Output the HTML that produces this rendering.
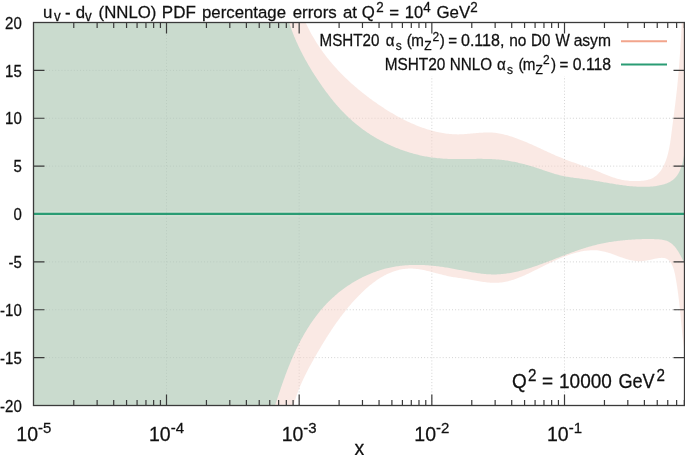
<!DOCTYPE html>
<html><head><meta charset="utf-8"><style>
html,body{margin:0;padding:0;background:#fff;width:685px;height:455px;overflow:hidden}
svg{display:block;will-change:transform;font-family:"Liberation Sans",sans-serif;fill:#000}
text{fill:#111;stroke:#111;stroke-width:0.25px}
</style></head><body>
<svg width="685" height="455" viewBox="0 0 685 455">
<clipPath id="gc"><path d="M33.50,22.50H297.50V76.00H684.50V405.50H33.50Z"/></clipPath>
<path d="M166.50,22.50V405.50 M299.17,22.50V405.50 M431.84,22.50V405.50 M564.51,22.50V405.50 M33.50,70.38H684.50 M33.50,118.25H684.50 M33.50,166.12H684.50 M33.50,261.88H684.50 M33.50,309.75H684.50 M33.50,357.62H684.50" stroke="#b8b8b8" stroke-width="1" stroke-dasharray="1,2.1" fill="none" opacity="0.6" clip-path="url(#gc)"/>
<path d="M33.50,405.50 L33.50,22.50 L305.54,22.38 L306.15,23.69 L306.76,24.99 L307.39,26.28 L308.02,27.57 L308.67,28.85 L309.32,30.12 L309.99,31.39 L310.66,32.65 L311.35,33.90 L312.04,35.14 L312.75,36.37 L313.46,37.60 L314.18,38.82 L314.92,40.04 L315.66,41.24 L316.41,42.44 L317.17,43.63 L317.94,44.82 L318.72,45.99 L319.50,47.16 L320.30,48.33 L321.10,49.48 L321.92,50.63 L322.74,51.77 L323.57,52.91 L324.41,54.04 L325.25,55.16 L326.11,56.27 L326.97,57.38 L327.84,58.48 L328.72,59.57 L329.61,60.66 L330.50,61.74 L331.41,62.82 L332.32,63.88 L333.24,64.94 L334.16,66.00 L335.09,67.04 L336.03,68.08 L336.98,69.12 L337.94,70.15 L338.90,71.17 L339.87,72.18 L340.84,73.19 L341.83,74.19 L342.82,75.19 L343.81,76.18 L344.81,77.16 L345.82,78.14 L346.84,79.11 L347.86,80.08 L348.89,81.04 L349.93,81.99 L350.97,82.93 L352.01,83.88 L353.07,84.81 L354.13,85.74 L355.19,86.66 L356.26,87.58 L357.34,88.49 L358.42,89.39 L359.51,90.29 L360.60,91.19 L361.70,92.07 L362.80,92.96 L363.91,93.83 L365.02,94.70 L366.14,95.57 L367.27,96.43 L368.40,97.28 L369.53,98.13 L370.67,98.97 L371.81,99.81 L372.96,100.64 L374.11,101.47 L375.27,102.29 L376.43,103.10 L377.59,103.91 L378.76,104.72 L379.94,105.52 L381.11,106.31 L382.30,107.09 L383.48,107.87 L384.67,108.64 L385.87,109.41 L387.07,110.17 L388.27,110.92 L389.48,111.66 L390.69,112.39 L391.91,113.12 L393.13,113.84 L394.36,114.55 L395.59,115.25 L396.82,115.94 L398.06,116.63 L399.30,117.30 L400.55,117.97 L401.80,118.62 L403.06,119.27 L404.32,119.91 L405.58,120.53 L406.85,121.15 L408.12,121.75 L409.40,122.35 L410.68,122.93 L411.97,123.50 L413.26,124.06 L414.55,124.61 L415.85,125.15 L417.15,125.67 L418.46,126.18 L419.77,126.69 L421.09,127.17 L422.40,127.65 L423.73,128.11 L425.06,128.56 L426.39,129.00 L427.73,129.42 L429.07,129.83 L430.41,130.22 L431.76,130.60 L433.11,130.97 L434.47,131.32 L435.83,131.65 L437.20,131.97 L438.56,132.27 L439.94,132.55 L441.31,132.82 L442.69,133.07 L444.07,133.29 L445.46,133.50 L446.85,133.69 L448.24,133.85 L449.64,134.00 L451.04,134.12 L452.44,134.22 L453.84,134.29 L455.25,134.35 L456.66,134.37 L458.07,134.38 L459.49,134.36 L460.90,134.31 L462.32,134.25 L463.74,134.17 L465.16,134.07 L466.59,133.97 L468.01,133.85 L469.44,133.73 L470.86,133.60 L472.29,133.46 L473.71,133.33 L475.14,133.20 L476.57,133.07 L477.99,132.95 L479.42,132.84 L480.84,132.73 L482.26,132.65 L483.68,132.57 L485.10,132.52 L486.51,132.49 L487.93,132.48 L489.34,132.49 L490.75,132.54 L492.16,132.61 L493.56,132.72 L494.96,132.86 L496.35,133.03 L497.75,133.23 L499.13,133.46 L500.52,133.71 L501.90,134.00 L503.27,134.30 L504.65,134.63 L506.01,134.99 L507.37,135.36 L508.73,135.75 L510.08,136.15 L511.43,136.58 L512.77,137.02 L514.10,137.47 L515.43,137.93 L516.76,138.40 L518.07,138.89 L519.39,139.39 L520.70,139.90 L522.01,140.42 L523.31,140.94 L524.61,141.48 L525.91,142.02 L527.20,142.58 L528.49,143.13 L529.78,143.70 L531.07,144.27 L532.35,144.84 L533.64,145.42 L534.92,146.01 L536.20,146.59 L537.48,147.18 L538.76,147.77 L540.04,148.37 L541.32,148.96 L542.59,149.56 L543.87,150.15 L545.15,150.74 L546.43,151.34 L547.72,151.93 L549.00,152.51 L550.29,153.10 L551.57,153.68 L552.86,154.25 L554.16,154.82 L555.45,155.39 L556.75,155.95 L558.05,156.50 L559.35,157.05 L560.66,157.58 L561.98,158.11 L563.29,158.63 L564.61,159.15 L565.93,159.66 L567.26,160.16 L568.58,160.66 L569.91,161.15 L571.24,161.64 L572.57,162.13 L573.90,162.61 L575.24,163.09 L576.57,163.57 L577.90,164.04 L579.23,164.52 L580.57,164.99 L581.90,165.46 L583.23,165.94 L584.55,166.41 L585.88,166.89 L587.20,167.37 L588.53,167.85 L589.84,168.33 L591.16,168.82 L592.47,169.31 L593.78,169.81 L595.08,170.31 L596.38,170.82 L597.68,171.33 L598.97,171.85 L600.26,172.37 L601.54,172.90 L602.82,173.42 L604.11,173.95 L605.39,174.47 L606.67,174.99 L607.96,175.49 L609.25,175.99 L610.55,176.48 L611.85,176.95 L613.17,177.40 L614.49,177.84 L615.82,178.26 L617.16,178.65 L618.51,179.02 L619.88,179.36 L621.27,179.68 L622.66,179.96 L624.08,180.22 L625.51,180.44 L626.95,180.62 L628.40,180.78 L629.87,180.91 L631.34,181.00 L632.81,181.07 L634.29,181.11 L635.77,181.11 L637.26,181.09 L638.74,181.04 L640.21,180.96 L641.68,180.85 L643.13,180.70 L644.57,180.50 L645.98,180.26 L647.35,179.96 L648.70,179.61 L650.00,179.19 L651.26,178.70 L652.47,178.15 L653.62,177.51 L654.72,176.81 L655.78,176.04 L656.78,175.20 L657.73,174.31 L658.64,173.36 L659.51,172.35 L660.33,171.30 L661.11,170.20 L661.85,169.05 L662.55,167.87 L663.21,166.65 L663.83,165.40 L664.43,164.12 L664.98,162.81 L665.51,161.48 L666.00,160.14 L666.47,158.77 L666.91,157.40 L667.32,156.02 L667.70,154.64 L668.07,153.25 L668.41,151.85 L668.73,150.45 L669.03,149.04 L669.31,147.63 L669.58,146.22 L669.83,144.81 L670.07,143.39 L670.29,141.97 L670.51,140.55 L670.71,139.13 L670.91,137.71 L671.10,136.29 L671.28,134.87 L671.47,133.45 L671.64,132.03 L671.82,130.61 L672.00,129.20 L672.18,127.79 L672.36,126.38 L672.54,124.98 L672.72,123.57 L672.90,122.17 L673.08,120.77 L673.26,119.37 L673.44,117.98 L673.62,116.58 L673.81,115.19 L673.99,113.80 L674.17,112.41 L674.34,111.02 L674.52,109.63 L674.70,108.24 L674.88,106.85 L675.05,105.46 L675.22,104.07 L675.40,102.68 L675.57,101.29 L675.73,99.90 L675.90,98.51 L676.06,97.12 L676.23,95.73 L676.38,94.33 L676.54,92.94 L676.70,91.54 L676.85,90.15 L677.00,88.75 L677.14,87.35 L677.29,85.94 L677.43,84.54 L677.57,83.14 L677.70,81.73 L677.84,80.33 L677.97,78.92 L678.10,77.51 L678.22,76.10 L678.35,74.69 L678.47,73.28 L678.59,71.87 L678.71,70.46 L678.82,69.05 L678.94,67.63 L679.05,66.22 L679.16,64.81 L679.27,63.39 L679.38,61.98 L679.48,60.56 L679.59,59.15 L679.69,57.73 L679.79,56.32 L679.88,54.90 L679.98,53.49 L680.08,52.07 L680.17,50.66 L680.26,49.25 L680.35,47.83 L680.44,46.42 L680.53,45.01 L680.62,43.59 L680.70,42.18 L680.79,40.77 L680.87,39.36 L680.96,37.95 L681.04,36.54 L681.12,35.14 L681.20,33.73 L681.28,32.32 L681.35,30.92 L681.43,29.51 L681.51,28.11 L681.58,26.71 L681.66,25.31 L681.73,23.91 L681.81,22.51 L684.50,22.50 L684.50,350.21 L684.28,350.21 L684.09,348.77 L683.90,347.34 L683.72,345.92 L683.54,344.51 L683.37,343.10 L683.20,341.70 L683.04,340.31 L682.88,338.92 L682.72,337.53 L682.57,336.15 L682.42,334.78 L682.28,333.41 L682.14,332.04 L682.00,330.68 L681.86,329.32 L681.72,327.97 L681.59,326.62 L681.46,325.27 L681.33,323.92 L681.20,322.57 L681.07,321.23 L680.94,319.89 L680.81,318.54 L680.68,317.20 L680.55,315.86 L680.42,314.52 L680.29,313.18 L680.16,311.84 L680.03,310.50 L679.89,309.15 L679.75,307.81 L679.61,306.46 L679.47,305.12 L679.32,303.77 L679.17,302.41 L679.01,301.06 L678.86,299.70 L678.70,298.33 L678.53,296.97 L678.36,295.60 L678.18,294.22 L678.00,292.84 L677.81,291.46 L677.62,290.07 L677.42,288.67 L677.22,287.27 L677.00,285.86 L676.78,284.44 L676.56,283.02 L676.32,281.59 L676.08,280.16 L675.83,278.71 L675.57,277.26 L675.30,275.80 L675.02,274.35 L674.71,272.91 L674.37,271.49 L674.00,270.10 L673.60,268.74 L673.15,267.42 L672.66,266.15 L672.12,264.94 L671.52,263.79 L670.86,262.71 L670.13,261.71 L669.33,260.81 L668.46,260.00 L667.52,259.31 L666.51,258.75 L665.42,258.32 L664.26,258.04 L663.04,257.89 L661.76,257.86 L660.44,257.92 L659.08,258.07 L657.69,258.27 L656.29,258.52 L654.88,258.80 L653.47,259.09 L652.06,259.39 L650.65,259.69 L649.24,259.97 L647.83,260.24 L646.43,260.49 L645.03,260.71 L643.64,260.90 L642.26,261.04 L640.87,261.13 L639.50,261.17 L638.13,261.14 L636.77,261.07 L635.42,260.94 L634.07,260.77 L632.73,260.55 L631.39,260.29 L630.06,259.99 L628.73,259.66 L627.41,259.30 L626.08,258.91 L624.77,258.50 L623.45,258.07 L622.14,257.62 L620.82,257.15 L619.51,256.68 L618.20,256.20 L616.89,255.72 L615.59,255.24 L614.28,254.76 L612.97,254.28 L611.66,253.82 L610.34,253.37 L609.03,252.94 L607.71,252.53 L606.39,252.14 L605.07,251.78 L603.74,251.45 L602.41,251.15 L601.08,250.89 L599.74,250.67 L598.40,250.50 L597.05,250.36 L595.69,250.27 L594.34,250.22 L592.98,250.20 L591.62,250.23 L590.25,250.28 L588.89,250.38 L587.52,250.50 L586.16,250.66 L584.79,250.85 L583.43,251.06 L582.07,251.31 L580.70,251.58 L579.34,251.88 L577.99,252.20 L576.64,252.54 L575.29,252.91 L573.94,253.29 L572.60,253.70 L571.27,254.12 L569.94,254.56 L568.62,255.01 L567.30,255.48 L566.00,255.96 L564.70,256.45 L563.41,256.95 L562.12,257.47 L560.84,257.99 L559.57,258.52 L558.31,259.06 L557.05,259.61 L555.79,260.17 L554.54,260.73 L553.30,261.30 L552.06,261.88 L550.82,262.47 L549.58,263.06 L548.35,263.65 L547.12,264.25 L545.89,264.85 L544.66,265.46 L543.44,266.07 L542.21,266.68 L540.98,267.29 L539.76,267.91 L538.53,268.52 L537.30,269.14 L536.07,269.76 L534.84,270.37 L533.61,270.99 L532.37,271.60 L531.13,272.21 L529.89,272.82 L528.64,273.42 L527.39,274.01 L526.14,274.59 L524.88,275.17 L523.62,275.73 L522.36,276.28 L521.09,276.82 L519.82,277.35 L518.54,277.86 L517.26,278.35 L515.97,278.82 L514.68,279.27 L513.38,279.71 L512.08,280.12 L510.77,280.50 L509.46,280.87 L508.14,281.20 L506.82,281.51 L505.48,281.79 L504.15,282.04 L502.80,282.26 L501.45,282.45 L500.09,282.60 L498.73,282.72 L497.35,282.81 L495.98,282.85 L494.59,282.86 L493.20,282.84 L491.80,282.78 L490.39,282.69 L488.99,282.58 L487.58,282.44 L486.17,282.28 L484.76,282.10 L483.35,281.90 L481.94,281.68 L480.53,281.46 L479.13,281.22 L477.73,280.98 L476.33,280.73 L474.94,280.48 L473.56,280.23 L472.18,279.98 L470.81,279.73 L469.46,279.49 L468.11,279.26 L466.77,279.05 L465.44,278.84 L464.13,278.64 L462.82,278.45 L461.51,278.27 L460.22,278.09 L458.92,277.90 L457.63,277.72 L456.33,277.53 L455.04,277.34 L453.74,277.13 L452.44,276.92 L451.13,276.69 L449.82,276.45 L448.50,276.19 L447.17,275.91 L445.83,275.61 L444.48,275.29 L443.12,274.96 L441.75,274.62 L440.38,274.27 L438.99,273.91 L437.61,273.54 L436.22,273.17 L434.82,272.80 L433.42,272.43 L432.02,272.06 L430.61,271.70 L429.20,271.35 L427.80,271.01 L426.39,270.68 L424.98,270.36 L423.57,270.07 L422.17,269.79 L420.77,269.53 L419.37,269.30 L417.97,269.10 L416.59,268.92 L415.20,268.78 L413.82,268.67 L412.45,268.59 L411.09,268.55 L409.73,268.55 L408.39,268.59 L407.05,268.67 L405.71,268.78 L404.39,268.93 L403.08,269.11 L401.77,269.33 L400.47,269.58 L399.18,269.86 L397.89,270.18 L396.62,270.53 L395.35,270.90 L394.09,271.31 L392.84,271.75 L391.60,272.22 L390.36,272.71 L389.14,273.23 L387.92,273.78 L386.71,274.36 L385.51,274.96 L384.31,275.58 L383.13,276.23 L381.95,276.90 L380.79,277.59 L379.63,278.31 L378.48,279.05 L377.33,279.80 L376.20,280.58 L375.07,281.38 L373.96,282.19 L372.85,283.03 L371.75,283.88 L370.66,284.74 L369.58,285.62 L368.50,286.52 L367.44,287.43 L366.38,288.35 L365.34,289.29 L364.30,290.24 L363.27,291.20 L362.25,292.17 L361.23,293.15 L360.23,294.15 L359.24,295.14 L358.25,296.15 L357.28,297.17 L356.31,298.19 L355.35,299.22 L354.40,300.25 L353.46,301.29 L352.53,302.33 L351.61,303.37 L350.69,304.42 L349.79,305.48 L348.89,306.54 L348.00,307.60 L347.12,308.66 L346.25,309.73 L345.38,310.81 L344.52,311.88 L343.67,312.96 L342.83,314.05 L342.00,315.14 L341.17,316.23 L340.34,317.32 L339.53,318.42 L338.72,319.53 L337.92,320.63 L337.12,321.74 L336.33,322.85 L335.55,323.97 L334.77,325.09 L333.99,326.21 L333.22,327.34 L332.46,328.47 L331.70,329.60 L330.95,330.74 L330.20,331.88 L329.46,333.02 L328.72,334.16 L327.98,335.31 L327.25,336.46 L326.52,337.62 L325.80,338.77 L325.08,339.93 L324.36,341.10 L323.65,342.26 L322.94,343.43 L322.23,344.60 L321.53,345.78 L320.82,346.95 L320.12,348.13 L319.43,349.31 L318.73,350.50 L318.04,351.68 L317.35,352.87 L316.66,354.07 L315.97,355.26 L315.28,356.46 L314.60,357.65 L313.92,358.86 L313.24,360.06 L312.56,361.27 L311.89,362.48 L311.22,363.69 L310.55,364.90 L309.89,366.12 L309.24,367.34 L308.59,368.56 L307.94,369.79 L307.30,371.02 L306.67,372.25 L306.04,373.48 L305.42,374.72 L304.81,375.96 L304.20,377.21 L303.60,378.46 L303.02,379.71 L302.43,380.96 L301.86,382.22 L301.30,383.48 L300.75,384.75 L300.21,386.01 L299.68,387.28 L299.16,388.56 L298.65,389.84 L298.15,391.12 L297.66,392.41 L297.19,393.70 L296.73,394.99 L296.28,396.29 L295.85,397.59 L295.43,398.90 L295.02,400.21 L294.63,401.52 L294.25,402.84 L293.89,404.16 L293.54,405.49 Z" fill="#f5d3c9" fill-opacity="0.500"/>
<path d="M33.50,405.50 L33.50,22.50 L289.16,22.58 L289.53,23.73 L289.91,24.87 L290.29,26.01 L290.68,27.15 L291.08,28.29 L291.49,29.42 L291.90,30.55 L292.32,31.67 L292.75,32.80 L293.18,33.92 L293.63,35.03 L294.07,36.15 L294.53,37.26 L294.99,38.37 L295.46,39.48 L295.94,40.58 L296.42,41.68 L296.91,42.78 L297.41,43.87 L297.91,44.96 L298.42,46.05 L298.93,47.14 L299.45,48.22 L299.98,49.31 L300.51,50.38 L301.05,51.46 L301.59,52.53 L302.14,53.60 L302.70,54.67 L303.26,55.74 L303.82,56.80 L304.39,57.86 L304.97,58.92 L305.55,59.97 L306.14,61.02 L306.73,62.07 L307.33,63.12 L307.93,64.16 L308.54,65.21 L309.15,66.25 L309.77,67.28 L310.39,68.32 L311.02,69.35 L311.65,70.38 L312.28,71.41 L312.92,72.43 L313.56,73.45 L314.21,74.47 L314.86,75.49 L315.52,76.51 L316.18,77.52 L316.84,78.53 L317.51,79.54 L318.18,80.55 L318.85,81.55 L319.53,82.55 L320.21,83.55 L320.90,84.55 L321.59,85.54 L322.28,86.53 L322.98,87.52 L323.68,88.50 L324.39,89.48 L325.10,90.46 L325.81,91.43 L326.53,92.40 L327.26,93.37 L327.99,94.33 L328.72,95.29 L329.46,96.25 L330.20,97.20 L330.95,98.15 L331.70,99.09 L332.46,100.03 L333.22,100.96 L333.99,101.89 L334.77,102.81 L335.55,103.73 L336.33,104.64 L337.12,105.55 L337.91,106.46 L338.72,107.35 L339.52,108.25 L340.33,109.13 L341.15,110.01 L341.98,110.89 L342.81,111.76 L343.64,112.62 L344.48,113.48 L345.33,114.33 L346.18,115.18 L347.05,116.01 L347.91,116.85 L348.79,117.67 L349.66,118.49 L350.55,119.30 L351.44,120.10 L352.34,120.90 L353.25,121.69 L354.16,122.47 L355.08,123.25 L356.01,124.02 L356.94,124.78 L357.88,125.53 L358.82,126.28 L359.77,127.01 L360.73,127.74 L361.69,128.47 L362.66,129.18 L363.64,129.89 L364.62,130.59 L365.60,131.29 L366.59,131.97 L367.59,132.65 L368.59,133.32 L369.60,133.98 L370.62,134.63 L371.64,135.28 L372.66,135.92 L373.69,136.55 L374.72,137.17 L375.76,137.79 L376.81,138.39 L377.86,138.99 L378.91,139.58 L379.97,140.16 L381.03,140.74 L382.10,141.30 L383.17,141.86 L384.25,142.41 L385.33,142.95 L386.41,143.48 L387.50,144.01 L388.59,144.52 L389.69,145.03 L390.79,145.53 L391.90,146.02 L393.01,146.50 L394.12,146.97 L395.23,147.44 L396.35,147.89 L397.48,148.34 L398.60,148.78 L399.74,149.21 L400.87,149.63 L402.01,150.04 L403.15,150.45 L404.29,150.84 L405.43,151.23 L406.58,151.60 L407.73,151.97 L408.89,152.33 L410.05,152.68 L411.21,153.02 L412.37,153.35 L413.53,153.67 L414.70,153.98 L415.87,154.29 L417.04,154.58 L418.22,154.87 L419.39,155.14 L420.57,155.41 L421.75,155.66 L422.93,155.91 L424.12,156.15 L425.30,156.38 L426.49,156.60 L427.68,156.81 L428.87,157.01 L430.06,157.20 L431.25,157.38 L432.45,157.55 L433.64,157.71 L434.84,157.86 L436.04,158.00 L437.24,158.13 L438.44,158.25 L439.64,158.36 L440.84,158.46 L442.05,158.56 L443.25,158.64 L444.45,158.71 L445.66,158.78 L446.86,158.84 L448.07,158.88 L449.27,158.93 L450.48,158.96 L451.69,158.99 L452.90,159.02 L454.10,159.03 L455.31,159.05 L456.52,159.05 L457.73,159.06 L458.94,159.06 L460.15,159.05 L461.36,159.05 L462.57,159.04 L463.78,159.03 L464.99,159.01 L466.20,159.00 L467.41,158.98 L468.62,158.97 L469.83,158.95 L471.04,158.93 L472.25,158.92 L473.46,158.90 L474.66,158.89 L475.87,158.88 L477.08,158.87 L478.29,158.86 L479.50,158.86 L480.70,158.86 L481.91,158.87 L483.12,158.88 L484.32,158.89 L485.53,158.91 L486.73,158.94 L487.93,158.97 L489.14,159.00 L490.34,159.05 L491.54,159.10 L492.74,159.16 L493.94,159.23 L495.14,159.30 L496.34,159.39 L497.53,159.48 L498.73,159.59 L499.92,159.70 L501.12,159.83 L502.31,159.96 L503.50,160.11 L504.69,160.27 L505.88,160.43 L507.07,160.61 L508.26,160.80 L509.44,160.99 L510.63,161.20 L511.81,161.41 L512.99,161.64 L514.17,161.87 L515.35,162.11 L516.53,162.36 L517.71,162.62 L518.89,162.89 L520.06,163.16 L521.24,163.44 L522.41,163.74 L523.59,164.04 L524.76,164.34 L525.93,164.66 L527.10,164.98 L528.26,165.31 L529.43,165.64 L530.60,165.98 L531.76,166.33 L532.92,166.69 L534.09,167.05 L535.25,167.42 L536.41,167.79 L537.56,168.18 L538.72,168.56 L539.88,168.95 L541.03,169.34 L542.19,169.73 L543.34,170.13 L544.50,170.52 L545.65,170.92 L546.81,171.31 L547.96,171.69 L549.11,172.08 L550.27,172.45 L551.42,172.82 L552.58,173.18 L553.73,173.54 L554.89,173.88 L556.05,174.22 L557.21,174.54 L558.37,174.85 L559.53,175.14 L560.69,175.43 L561.85,175.69 L563.02,175.94 L564.18,176.18 L565.35,176.41 L566.52,176.63 L567.69,176.83 L568.86,177.03 L570.04,177.22 L571.21,177.40 L572.39,177.57 L573.57,177.74 L574.75,177.90 L575.93,178.06 L577.11,178.21 L578.29,178.37 L579.47,178.52 L580.66,178.67 L581.85,178.82 L583.03,178.98 L584.22,179.13 L585.41,179.29 L586.60,179.45 L587.80,179.62 L588.99,179.80 L590.19,179.98 L591.38,180.16 L592.58,180.35 L593.78,180.54 L594.97,180.73 L596.17,180.93 L597.37,181.14 L598.58,181.34 L599.78,181.55 L600.98,181.75 L602.18,181.96 L603.39,182.17 L604.59,182.38 L605.80,182.59 L607.00,182.80 L608.21,183.01 L609.42,183.21 L610.62,183.42 L611.83,183.62 L613.04,183.82 L614.25,184.02 L615.45,184.22 L616.66,184.41 L617.87,184.59 L619.08,184.77 L620.29,184.95 L621.50,185.12 L622.70,185.29 L623.91,185.45 L625.12,185.60 L626.33,185.75 L627.54,185.89 L628.74,186.02 L629.95,186.14 L631.16,186.26 L632.37,186.36 L633.57,186.46 L634.78,186.55 L635.98,186.62 L637.19,186.69 L638.39,186.75 L639.59,186.79 L640.80,186.82 L642.00,186.84 L643.20,186.85 L644.40,186.84 L645.60,186.82 L646.80,186.79 L648.00,186.74 L649.20,186.68 L650.39,186.60 L651.59,186.51 L652.78,186.40 L653.97,186.28 L655.16,186.14 L656.35,185.98 L657.53,185.79 L658.71,185.59 L659.87,185.36 L661.03,185.11 L662.17,184.83 L663.30,184.52 L664.41,184.18 L665.50,183.81 L666.58,183.40 L667.63,182.95 L668.66,182.47 L669.66,181.95 L670.64,181.39 L671.59,180.78 L672.50,180.13 L673.39,179.43 L674.24,178.69 L675.05,177.89 L675.83,177.05 L676.56,176.15 L677.26,175.19 L677.92,174.20 L678.54,173.15 L679.13,172.07 L679.68,170.95 L680.19,169.80 L680.67,168.61 L681.12,167.41 L681.54,166.18 L681.93,164.93 L682.28,163.67 L682.61,162.40 L682.92,161.12 L683.19,159.84 L683.44,158.56 L683.67,157.28 L683.87,156.01 L684.05,154.76 L684.21,153.52 L684.50,263.28 L684.36,263.28 L683.83,262.16 L683.28,261.02 L682.72,259.86 L682.15,258.68 L681.55,257.49 L680.94,256.29 L680.31,255.10 L679.66,253.92 L678.99,252.75 L678.29,251.60 L677.57,250.48 L676.83,249.39 L676.06,248.34 L675.26,247.33 L674.43,246.37 L673.57,245.46 L672.68,244.62 L671.75,243.83 L670.80,243.11 L669.82,242.46 L668.81,241.86 L667.77,241.34 L666.70,240.87 L665.61,240.48 L664.49,240.15 L663.35,239.88 L662.18,239.67 L661.00,239.50 L659.80,239.38 L658.59,239.28 L657.36,239.22 L656.13,239.17 L654.90,239.14 L653.66,239.11 L652.42,239.09 L651.17,239.07 L649.93,239.06 L648.68,239.05 L647.43,239.05 L646.18,239.06 L644.92,239.07 L643.67,239.09 L642.41,239.12 L641.15,239.15 L639.89,239.19 L638.63,239.23 L637.37,239.28 L636.11,239.34 L634.84,239.40 L633.58,239.47 L632.31,239.54 L631.05,239.63 L629.78,239.72 L628.52,239.81 L627.25,239.92 L625.99,240.03 L624.72,240.14 L623.45,240.27 L622.19,240.40 L620.93,240.54 L619.66,240.68 L618.40,240.84 L617.14,241.00 L615.88,241.16 L614.62,241.34 L613.36,241.52 L612.10,241.71 L610.85,241.91 L609.59,242.11 L608.34,242.33 L607.09,242.55 L605.85,242.78 L604.60,243.01 L603.36,243.26 L602.12,243.51 L600.88,243.77 L599.64,244.04 L598.41,244.32 L597.18,244.60 L595.96,244.90 L594.73,245.20 L593.51,245.51 L592.30,245.83 L591.09,246.16 L589.88,246.49 L588.67,246.84 L587.47,247.19 L586.27,247.55 L585.07,247.91 L583.88,248.29 L582.69,248.67 L581.50,249.05 L580.32,249.44 L579.13,249.84 L577.95,250.25 L576.77,250.65 L575.59,251.07 L574.42,251.49 L573.24,251.91 L572.07,252.33 L570.90,252.76 L569.73,253.20 L568.56,253.64 L567.39,254.08 L566.23,254.52 L565.06,254.96 L563.90,255.41 L562.73,255.86 L561.57,256.31 L560.40,256.76 L559.24,257.21 L558.07,257.67 L556.91,258.12 L555.74,258.58 L554.58,259.03 L553.41,259.48 L552.24,259.94 L551.07,260.39 L549.91,260.84 L548.74,261.29 L547.56,261.73 L546.39,262.18 L545.22,262.62 L544.04,263.06 L542.86,263.50 L541.68,263.93 L540.50,264.36 L539.32,264.79 L538.13,265.21 L536.94,265.63 L535.75,266.04 L534.56,266.45 L533.36,266.86 L532.16,267.25 L530.96,267.65 L529.76,268.03 L528.55,268.41 L527.34,268.78 L526.13,269.14 L524.91,269.50 L523.70,269.85 L522.48,270.18 L521.26,270.51 L520.04,270.83 L518.81,271.14 L517.59,271.43 L516.36,271.72 L515.13,271.99 L513.90,272.25 L512.67,272.50 L511.44,272.74 L510.21,272.96 L508.97,273.17 L507.74,273.36 L506.50,273.54 L505.26,273.71 L504.03,273.86 L502.79,273.99 L501.55,274.11 L500.31,274.20 L499.07,274.29 L497.83,274.35 L496.59,274.40 L495.35,274.42 L494.11,274.43 L492.87,274.42 L491.63,274.40 L490.40,274.35 L489.16,274.30 L487.92,274.22 L486.68,274.14 L485.44,274.04 L484.20,273.92 L482.96,273.80 L481.72,273.66 L480.48,273.51 L479.23,273.35 L477.99,273.18 L476.75,273.00 L475.51,272.81 L474.27,272.62 L473.03,272.41 L471.78,272.20 L470.54,271.99 L469.30,271.77 L468.05,271.54 L466.81,271.31 L465.56,271.08 L464.32,270.84 L463.07,270.60 L461.83,270.36 L460.58,270.12 L459.33,269.88 L458.09,269.64 L456.84,269.40 L455.59,269.16 L454.34,268.93 L453.09,268.69 L451.84,268.46 L450.58,268.24 L449.33,268.02 L448.08,267.80 L446.82,267.60 L445.57,267.39 L444.31,267.20 L443.06,267.01 L441.80,266.83 L440.54,266.65 L439.28,266.49 L438.02,266.33 L436.77,266.18 L435.51,266.03 L434.25,265.89 L432.99,265.77 L431.73,265.65 L430.47,265.54 L429.21,265.43 L427.95,265.34 L426.70,265.25 L425.44,265.18 L424.18,265.11 L422.92,265.06 L421.67,265.01 L420.41,264.97 L419.16,264.94 L417.90,264.93 L416.65,264.92 L415.40,264.92 L414.14,264.94 L412.89,264.96 L411.64,265.00 L410.39,265.04 L409.15,265.10 L407.90,265.17 L406.66,265.25 L405.41,265.34 L404.17,265.45 L402.93,265.56 L401.69,265.69 L400.46,265.83 L399.22,265.99 L397.99,266.15 L396.76,266.33 L395.53,266.52 L394.30,266.73 L393.08,266.95 L391.85,267.18 L390.63,267.43 L389.41,267.69 L388.20,267.96 L386.98,268.25 L385.77,268.55 L384.57,268.87 L383.36,269.20 L382.16,269.54 L380.96,269.90 L379.76,270.27 L378.57,270.65 L377.38,271.04 L376.20,271.45 L375.01,271.88 L373.84,272.31 L372.66,272.76 L371.49,273.22 L370.33,273.69 L369.17,274.18 L368.01,274.67 L366.86,275.18 L365.71,275.70 L364.57,276.24 L363.43,276.78 L362.30,277.34 L361.18,277.91 L360.05,278.49 L358.94,279.08 L357.83,279.68 L356.73,280.30 L355.63,280.92 L354.54,281.56 L353.45,282.20 L352.37,282.86 L351.30,283.53 L350.23,284.21 L349.17,284.90 L348.12,285.59 L347.07,286.30 L346.03,287.02 L345.00,287.75 L343.97,288.49 L342.96,289.24 L341.95,290.00 L340.95,290.76 L339.95,291.54 L338.96,292.33 L337.99,293.12 L337.02,293.93 L336.05,294.74 L335.10,295.56 L334.16,296.40 L333.22,297.23 L332.29,298.08 L331.38,298.94 L330.47,299.80 L329.57,300.68 L328.68,301.56 L327.80,302.45 L326.92,303.34 L326.06,304.25 L325.21,305.16 L324.36,306.08 L323.53,307.01 L322.70,307.94 L321.88,308.88 L321.07,309.83 L320.27,310.79 L319.47,311.75 L318.69,312.72 L317.91,313.70 L317.15,314.68 L316.39,315.67 L315.63,316.66 L314.89,317.66 L314.15,318.67 L313.42,319.69 L312.70,320.71 L311.99,321.73 L311.29,322.76 L310.59,323.80 L309.90,324.84 L309.21,325.89 L308.54,326.95 L307.87,328.00 L307.21,329.07 L306.55,330.14 L305.90,331.21 L305.26,332.29 L304.63,333.37 L304.00,334.46 L303.38,335.55 L302.77,336.65 L302.16,337.75 L301.56,338.85 L300.96,339.96 L300.37,341.08 L299.79,342.19 L299.21,343.31 L298.64,344.44 L298.08,345.56 L297.52,346.70 L296.96,347.83 L296.42,348.97 L295.87,350.11 L295.34,351.25 L294.80,352.40 L294.28,353.55 L293.76,354.70 L293.24,355.86 L292.73,357.01 L292.22,358.17 L291.72,359.33 L291.23,360.50 L290.74,361.66 L290.25,362.83 L289.77,364.00 L289.29,365.17 L288.82,366.35 L288.35,367.52 L287.88,368.70 L287.42,369.87 L286.97,371.05 L286.51,372.23 L286.07,373.41 L285.62,374.60 L285.18,375.78 L284.74,376.96 L284.31,378.14 L283.88,379.33 L283.45,380.51 L283.03,381.70 L282.61,382.88 L282.20,384.07 L281.78,385.25 L281.37,386.44 L280.96,387.62 L280.56,388.81 L280.16,389.99 L279.76,391.17 L279.36,392.36 L278.97,393.54 L278.58,394.72 L278.19,395.90 L277.80,397.08 L277.42,398.25 L277.04,399.43 L276.66,400.61 L276.28,401.78 L275.90,402.95 L275.53,404.12 L275.16,405.29 Z" fill="#71c1a5" fill-opacity="0.350"/>
<path d="M73.77,405.50V400.00 M73.77,22.50V28.00 M97.13,405.50V400.00 M97.13,22.50V28.00 M113.71,405.50V400.00 M113.71,22.50V28.00 M126.56,405.50V400.00 M126.56,22.50V28.00 M137.07,405.50V400.00 M137.07,22.50V28.00 M145.95,405.50V400.00 M145.95,22.50V28.00 M153.64,405.50V400.00 M153.64,22.50V28.00 M160.43,405.50V400.00 M160.43,22.50V28.00 M166.50,405.50V394.50 M166.50,22.50V33.50 M206.44,405.50V400.00 M206.44,22.50V28.00 M229.80,405.50V400.00 M229.80,22.50V28.00 M246.38,405.50V400.00 M246.38,22.50V28.00 M259.23,405.50V400.00 M259.23,22.50V28.00 M269.74,405.50V400.00 M269.74,22.50V28.00 M278.62,405.50V400.00 M278.62,22.50V28.00 M286.31,405.50V400.00 M286.31,22.50V28.00 M293.10,405.50V400.00 M293.10,22.50V28.00 M299.17,405.50V394.50 M299.17,22.50V33.50 M339.11,405.50V400.00 M339.11,22.50V28.00 M362.47,405.50V400.00 M362.47,22.50V28.00 M379.05,405.50V400.00 M379.05,22.50V28.00 M391.90,405.50V400.00 M391.90,22.50V28.00 M402.41,405.50V400.00 M402.41,22.50V28.00 M411.29,405.50V400.00 M411.29,22.50V28.00 M418.98,405.50V400.00 M418.98,22.50V28.00 M425.77,405.50V400.00 M425.77,22.50V28.00 M431.84,405.50V394.50 M431.84,22.50V33.50 M471.78,405.50V400.00 M471.78,22.50V28.00 M495.14,405.50V400.00 M495.14,22.50V28.00 M511.72,405.50V400.00 M511.72,22.50V28.00 M524.57,405.50V400.00 M524.57,22.50V28.00 M535.08,405.50V400.00 M535.08,22.50V28.00 M543.96,405.50V400.00 M543.96,22.50V28.00 M551.65,405.50V400.00 M551.65,22.50V28.00 M558.44,405.50V400.00 M558.44,22.50V28.00 M564.51,405.50V394.50 M564.51,22.50V33.50 M604.45,405.50V400.00 M604.45,22.50V28.00 M627.81,405.50V400.00 M627.81,22.50V28.00 M644.39,405.50V400.00 M644.39,22.50V28.00 M657.24,405.50V400.00 M657.24,22.50V28.00 M667.75,405.50V400.00 M667.75,22.50V28.00 M676.63,405.50V400.00 M676.63,22.50V28.00 M684.32,405.50V400.00 M684.32,22.50V28.00 M33.50,357.62H44.50 M684.50,357.62H673.50 M33.50,309.75H44.50 M684.50,309.75H673.50 M33.50,261.88H44.50 M684.50,261.88H673.50 M33.50,214.00H44.50 M684.50,214.00H673.50 M33.50,166.12H44.50 M684.50,166.12H673.50 M33.50,118.25H44.50 M684.50,118.25H673.50 M33.50,70.38H44.50 M684.50,70.38H673.50" stroke="#3a3a3a" stroke-width="1.2" fill="none"/>
<path d="M33.50,212.00H684.50M33.50,215.90H684.50" stroke="#ffffff" stroke-opacity="0.16" stroke-width="1.3"/>
<path d="M33.50,213.90H684.50" stroke="#2a9c74" stroke-width="2.1"/>
<rect x="33.50" y="22.50" width="651.00" height="383.00" fill="none" stroke="#3a3a3a" stroke-width="1.3"/>
<path d="M621.00,41.30H667.00" stroke="#f2a58c" stroke-width="2.00"/>
<path d="M621.00,64.60H667.00" stroke="#2a9c74" stroke-width="2.00"/>
<text transform="translate(21.80,411.70) scale(1,1.080)" font-size="15.00" text-anchor="end">-20</text>
<text transform="translate(21.80,363.82) scale(1,1.080)" font-size="15.00" text-anchor="end">-15</text>
<text transform="translate(21.80,315.95) scale(1,1.080)" font-size="15.00" text-anchor="end">-10</text>
<text transform="translate(21.80,268.07) scale(1,1.080)" font-size="15.00" text-anchor="end">-5</text>
<text transform="translate(21.80,220.20) scale(1,1.080)" font-size="15.00" text-anchor="end">0</text>
<text transform="translate(21.80,172.32) scale(1,1.080)" font-size="15.00" text-anchor="end">5</text>
<text transform="translate(21.80,124.45) scale(1,1.080)" font-size="15.00" text-anchor="end">10</text>
<text transform="translate(21.80,76.58) scale(1,1.080)" font-size="15.00" text-anchor="end">15</text>
<text transform="translate(21.80,28.70) scale(1,1.080)" font-size="15.00" text-anchor="end">20</text>
<text transform="translate(33.83,440.60) scale(1,1.030)" font-size="19.50" text-anchor="middle">10<tspan font-size="15.00" dy="-7.09">-5</tspan></text>
<text transform="translate(166.50,440.60) scale(1,1.030)" font-size="19.50" text-anchor="middle">10<tspan font-size="15.00" dy="-7.09">-4</tspan></text>
<text transform="translate(299.17,440.60) scale(1,1.030)" font-size="19.50" text-anchor="middle">10<tspan font-size="15.00" dy="-7.09">-3</tspan></text>
<text transform="translate(431.84,440.60) scale(1,1.030)" font-size="19.50" text-anchor="middle">10<tspan font-size="15.00" dy="-7.09">-2</tspan></text>
<text transform="translate(564.51,440.60) scale(1,1.030)" font-size="19.50" text-anchor="middle">10<tspan font-size="15.00" dy="-7.09">-1</tspan></text>
<text transform="translate(359.40,455.20) scale(1,1.030)" font-size="19.50" text-anchor="middle">x</text>
<text transform="translate(42.91,17.80) scale(1.000,1.030)" font-size="16.80">u</text>
<text transform="translate(53.95,21.00) scale(1.000,1.030)" font-size="13.40">v</text>
<text transform="translate(64.96,17.80) scale(1.000,1.030)" font-size="16.80">-</text>
<text transform="translate(75.69,17.80) scale(1.000,1.030)" font-size="16.80">d</text>
<text transform="translate(84.95,21.00) scale(1.000,1.030)" font-size="13.40">v</text>
<text transform="translate(98.56,17.80) scale(1.000,1.030)" font-size="16.80">(NNLO)</text>
<text transform="translate(161.81,17.80) scale(1.012,1.030)" font-size="16.80">PDF</text>
<text transform="translate(202.01,17.80) scale(1.000,1.030)" font-size="16.80">percentage</text>
<text transform="translate(292.69,17.80) scale(1.004,1.030)" font-size="16.80">errors</text>
<text transform="translate(342.89,17.80) scale(1.000,1.030)" font-size="16.80">at</text>
<text transform="translate(361.71,17.80) scale(1.000,1.030)" font-size="16.80">Q</text>
<text transform="translate(376.23,11.70) scale(1.000,1.030)" font-size="13.40">2</text>
<text transform="translate(389.18,17.80) scale(1.000,1.030)" font-size="16.80">=</text>
<text transform="translate(404.74,17.80) scale(0.986,1.030)" font-size="16.80">10</text>
<text transform="translate(423.29,11.70) scale(1.000,1.030)" font-size="13.40">4</text>
<text transform="translate(436.45,17.80) scale(1.007,1.030)" font-size="16.80">GeV</text>
<text transform="translate(470.23,11.70) scale(1.000,1.030)" font-size="13.40">2</text>
<text transform="translate(319.55,46.20) scale(1.000,1.030)" font-size="15.20">MSHT20</text>
<text transform="translate(385.66,46.20) scale(1.000,1.030)" font-size="15.20">α</text>
<text transform="translate(395.66,50.20) scale(1.000,1.030)" font-size="12.00">s</text>
<text transform="translate(406.66,46.20) scale(1.000,1.030)" font-size="15.20">(</text>
<text transform="translate(411.20,46.20) scale(1.000,1.030)" font-size="15.20">m</text>
<text transform="translate(424.32,50.20) scale(1.000,1.030)" font-size="12.00">Z</text>
<text transform="translate(432.60,40.90) scale(1.000,1.030)" font-size="12.00">2</text>
<text transform="translate(439.71,46.20) scale(1.000,1.030)" font-size="15.20">)</text>
<text transform="translate(448.26,46.20) scale(1.000,1.030)" font-size="15.20">=</text>
<text transform="translate(460.97,46.20) scale(1.057,1.030)" font-size="15.20">0.118,</text>
<text transform="translate(509.18,46.20) scale(1.017,1.030)" font-size="15.20">no</text>
<text transform="translate(530.96,46.20) scale(0.996,1.030)" font-size="15.20">D0</text>
<text transform="translate(555.42,46.20) scale(1.000,1.030)" font-size="15.20">W</text>
<text transform="translate(573.64,46.20) scale(1.027,1.030)" font-size="15.20">asym</text>
<text transform="translate(384.64,69.60) scale(1.012,1.030)" font-size="15.20">MSHT20</text>
<text transform="translate(449.65,69.60) scale(1.004,1.030)" font-size="15.20">NNLO</text>
<text transform="translate(496.96,69.60) scale(1.000,1.030)" font-size="15.20">α</text>
<text transform="translate(507.06,73.60) scale(1.000,1.030)" font-size="12.00">s</text>
<text transform="translate(518.46,69.60) scale(1.000,1.030)" font-size="15.20">(</text>
<text transform="translate(522.70,69.60) scale(1.000,1.030)" font-size="15.20">m</text>
<text transform="translate(535.62,73.60) scale(1.000,1.030)" font-size="12.00">Z</text>
<text transform="translate(543.00,64.30) scale(1.000,1.030)" font-size="12.00">2</text>
<text transform="translate(551.11,69.60) scale(1.000,1.030)" font-size="15.20">)</text>
<text transform="translate(559.46,69.60) scale(1.000,1.030)" font-size="15.20">=</text>
<text transform="translate(572.78,69.60) scale(1.041,1.030)" font-size="15.20">0.118</text>
<text transform="translate(512.11,387.60) scale(1.000,1.030)" font-size="19.00">Q</text>
<text transform="translate(527.94,381.00) scale(1.000,1.030)" font-size="15.20">2</text>
<text transform="translate(541.97,387.60) scale(1.000,1.030)" font-size="19.00">=</text>
<text transform="translate(559.05,387.60) scale(1.001,1.030)" font-size="19.00">10000</text>
<text transform="translate(618.39,387.60) scale(0.955,1.030)" font-size="19.00">GeV</text>
<text transform="translate(656.44,381.00) scale(1.000,1.030)" font-size="15.20">2</text>
</svg>
</body></html>
